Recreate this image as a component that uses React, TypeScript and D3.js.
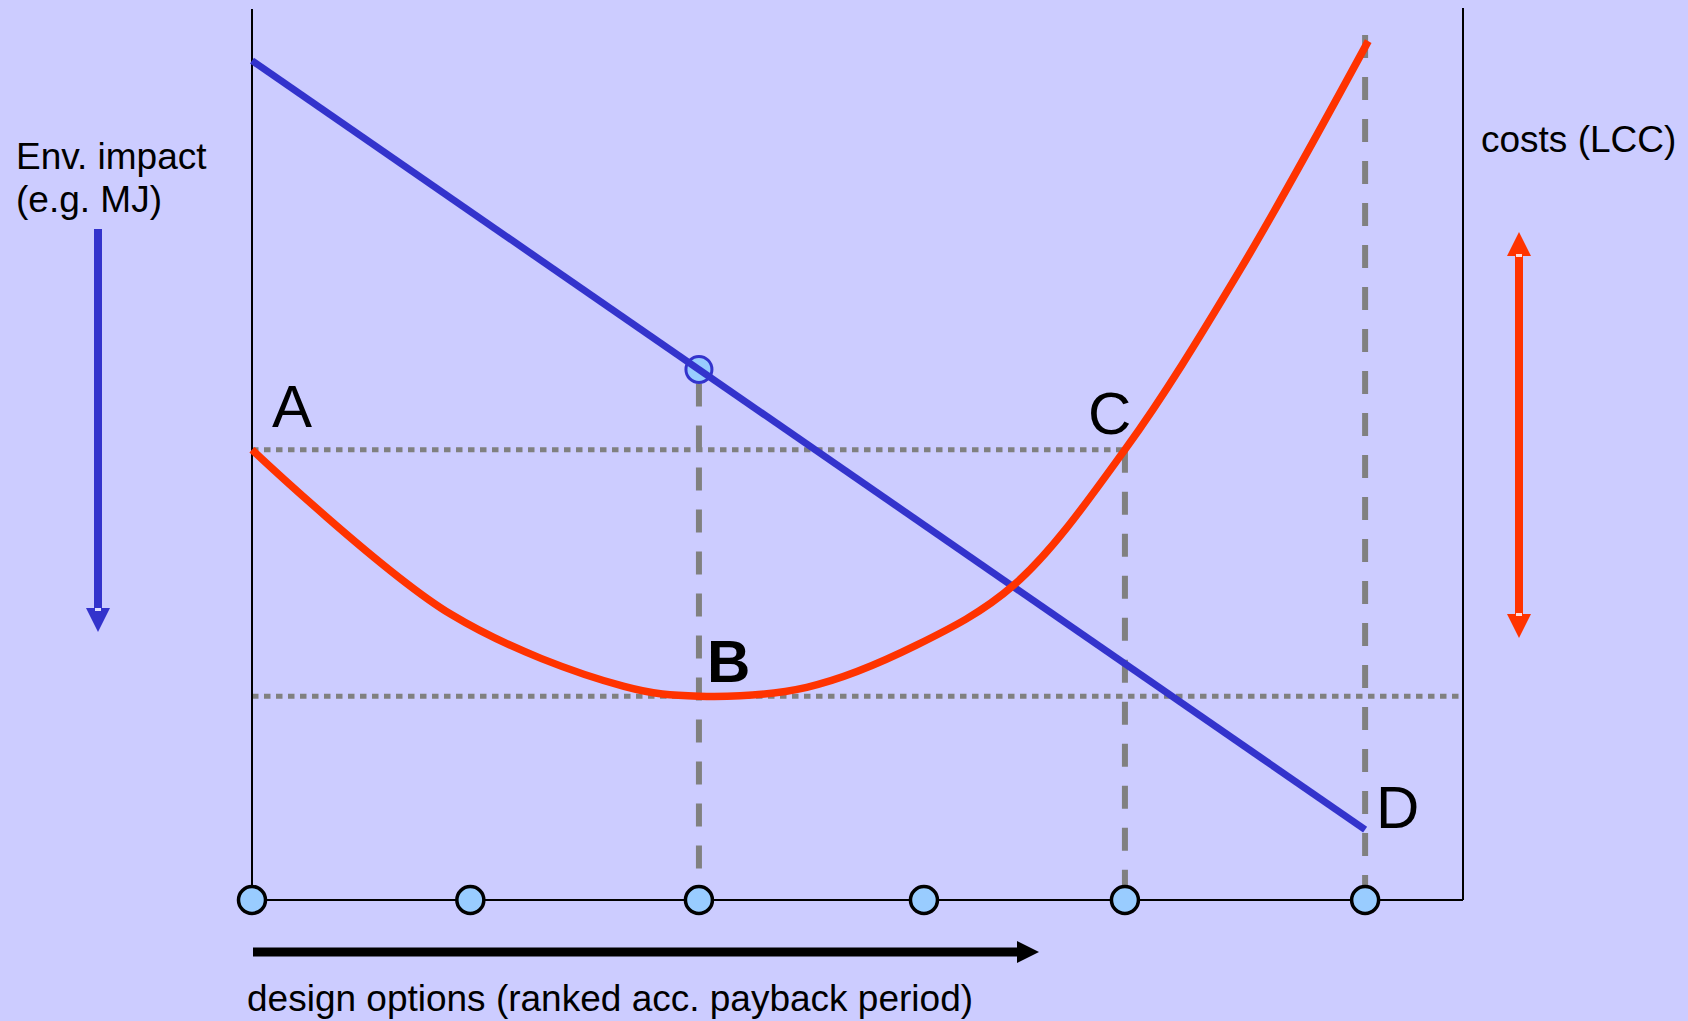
import React from "react";
import * as d3 from "d3";

// design options ranked by payback period (position along the x axis)
const optionPos = [0, 0.98, 2.006, 3.016, 3.918, 4.996];
// environmental impact: straight decline from first to last option
const envStart = 94.3;
const envEnd = 7.9;
// life cycle cost curve
const lccX = [0, 0.893, 1.67, 2.006, 2.49, 2.98, 3.42, 3.918, 4.43, 5.01];
const lccY = [50.6, 32.1, 24.0, 22.9, 23.9, 28.6, 35.4, 50.6, 70.6, 96.5];
const pointLabels = ["A", "B", "C", "D"];

const W = 1688;
const H = 1021;

export default function App() {
  const x = d3.scaleLinear().domain([0, 5]).range([252, 1366]);
  const y = d3.scaleLinear().domain([0, 100]).range([900, 10]);

  const envLine = d3
    .line<number[]>()
    .x((d) => x(d[0]))
    .y((d) => y(d[1]));
  const envData = [
    [optionPos[0], envStart],
    [optionPos[5], envEnd],
  ];
  const envAt = (v: number) =>
    envStart + ((envEnd - envStart) * (v - optionPos[0])) / (optionPos[5] - optionPos[0]);

  const lccLine = d3
    .line<number>()
    .x((d, i) => x(lccX[i]))
    .y((d) => y(d))
    .curve(d3.curveCatmullRom.alpha(0.5));

  const base = y(0);
  const leftX = x(0);
  const rightX = 1463;
  const levelA = y(lccY[0]);
  const levelB = y(d3.min(lccY) as number);
  const circY = y(envAt(optionPos[2]));

  const font = "Liberation Sans, Arial, sans-serif";
  const gray = "#808080";

  return (
    <svg
      width={W}
      height={H}
      style={{ position: "absolute", left: 0, top: 0 }}
      fontFamily={font}
    >
      <rect width={W} height={H} fill="#ccccff" />

      {/* dotted horizontal reference levels */}
      <line x1={leftX} x2={x(optionPos[4])} y1={levelA} y2={levelA}
        stroke={gray} strokeWidth={5} strokeDasharray="6.5 5.5" />
      <line x1={leftX} x2={rightX} y1={levelB} y2={levelB}
        stroke={gray} strokeWidth={5} strokeDasharray="6.5 5.5" />

      {/* dashed verticals */}
      <line x1={x(optionPos[2])} x2={x(optionPos[2])} y1={circY + 14} y2={base}
        stroke={gray} strokeWidth={6} strokeDasharray="23 19" />
      <line x1={x(optionPos[4])} x2={x(optionPos[4])} y1={levelA} y2={base}
        stroke={gray} strokeWidth={6} strokeDasharray="23 19" />
      <line x1={x(optionPos[5])} x2={x(optionPos[5])} y1={35} y2={base}
        stroke={gray} strokeWidth={6} strokeDasharray="23 19" />

      {/* frame */}
      <line x1={leftX} x2={leftX} y1={9} y2={base} stroke="#000" strokeWidth={2} />
      <line x1={rightX} x2={rightX} y1={8} y2={base} stroke="#000" strokeWidth={2} />
      <line x1={leftX} x2={rightX} y1={base} y2={base} stroke="#000" strokeWidth={2} />

      {/* env impact */}
      <circle cx={x(optionPos[2])} cy={circY} r={13} fill="#99ccff" stroke="#3333cc" strokeWidth={3} />
      <path d={envLine(envData) || ""} fill="none" stroke="#3333cc" strokeWidth={7} />

      {/* LCC */}
      <path d={lccLine(lccY) || ""} fill="none" stroke="#ff3300" strokeWidth={7.5} />

      {/* design option markers */}
      {optionPos.map((p, i) => (
        <circle key={i} cx={x(p)} cy={base} r={13.5} fill="#99ccff" stroke="#000" strokeWidth={3.5} />
      ))}

      {/* env impact arrow */}
      <rect x={94} y={229} width={8} height={380} fill="#3333cc" />
      <path d="M86,608 L110,608 L98,632 Z" fill="#3333cc" />
      <rect x={95} y={608} width={6} height={3} fill="#ddddff" />

      {/* cost arrow */}
      <rect x={1515} y={254} width={8} height={362} fill="#ff3300" />
      <path d="M1507,256 L1531,256 L1519,232 Z" fill="#ff3300" />
      <path d="M1507,614 L1531,614 L1519,638 Z" fill="#ff3300" />
      <rect x={1516} y={254} width={6} height={3} fill="#ffdddd" />
      <rect x={1516} y={613} width={6} height={3} fill="#ffdddd" />

      {/* design options arrow */}
      <rect x={253} y={947.5} width={767} height={9} fill="#000" />
      <path d="M1017,941 L1017,963 L1039,952 Z" fill="#000" />

      {/* texts */}
      <text x={16} y={169} fontSize={37}>Env. impact</text>
      <text x={16} y={212} fontSize={37}>(e.g. MJ)</text>
      <text x={1481} y={152} fontSize={37}>costs (LCC)</text>
      <text x={247} y={1011} fontSize={37}>design options (ranked acc. payback period)</text>

      <text x={272} y={427} fontSize={60}>{pointLabels[0]}</text>
      <text x={707} y={682} fontSize={60} fontWeight="bold">{pointLabels[1]}</text>
      <text x={1088} y={434} fontSize={60}>{pointLabels[2]}</text>
      <text x={1376} y={828} fontSize={60}>{pointLabels[3]}</text>
    </svg>
  );
}
